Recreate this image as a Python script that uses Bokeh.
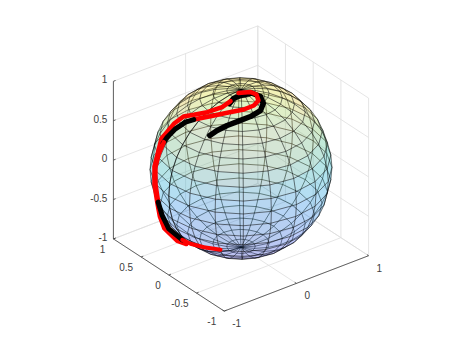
import numpy as np
from bokeh.plotting import figure
from bokeh.embed import file_html
from bokeh.resources import INLINE
from bokeh.core.properties import value

# tick labels
x_ticks = [-1, 0, 1]
y_ticks = [-1, -0.5, 0, 0.5, 1]
z_ticks = [-1, -0.5, 0, 0.5, 1]
x_labels = ["-1", "0", "1"]
y_labels = ["-1", "-0.5", "0", "0.5", "1"]
z_labels = ["-1", "-0.5", "0", "0.5", "1"]

# sphere mesh size (MATLAB sphere(n)) and face colormap anchors
sphere_n = 20
cmap_pos = [0.0, 0.125, 0.25, 0.375, 0.5, 0.625, 0.75, 0.875, 1.0]
cmap_r = [0.2422, 0.2810, 0.1786, 0.1085, 0.0689, 0.2161, 0.6720, 0.9970, 0.9769]
cmap_g = [0.1504, 0.3228, 0.5289, 0.6350, 0.6948, 0.7843, 0.7793, 0.7659, 0.9839]
cmap_b = [0.6603, 0.9579, 0.9682, 0.8800, 0.8394, 0.5923, 0.2227, 0.2199, 0.0805]

# thick trajectory pieces, in view-plane coordinates (sphere radius = 1)
black_a_u = [-0.343, -0.262, -0.152, -0.027, 0.104, 0.214, 0.245, 0.214, 0.115, -0.005, -0.082, -0.126]
black_a_v = [0.363, 0.418, 0.473, 0.520, 0.571, 0.637, 0.714, 0.791, 0.830, 0.802, 0.769, 0.714]
red_a_u = [-0.115, -0.207, -0.371, -0.519, -0.632, -0.738, -0.830, -0.874, -0.907, -0.951, -0.951, -0.918, -0.892, -0.842, -0.700, -0.600]
red_a_v = [0.740, 0.674, 0.619, 0.590, 0.571, 0.491, 0.381, 0.330, 0.198, 0.022, -0.176, -0.385, -0.526, -0.658, -0.795, -0.830]
red_b_u = [-0.027, 0.104, 0.170, 0.192, 0.141, 0.031, -0.152, -0.335, -0.519]
red_b_v = [0.830, 0.841, 0.813, 0.747, 0.692, 0.648, 0.612, 0.575, 0.538]
black_b_u = [-0.519, -0.610, -0.720, -0.811, -0.855]
black_b_v = [0.538, 0.509, 0.436, 0.344, 0.278]
red_c_u = [-0.848, -0.903, -0.940, -0.940, -0.910]
red_c_v = [0.289, 0.162, 0.014, -0.168, -0.370]
black_c_u = [-0.910, -0.866, -0.793, -0.646]
black_c_v = [-0.370, -0.516, -0.663, -0.784]
red_d_u = [-0.646, -0.555, -0.409, -0.225]
red_d_v = [-0.784, -0.827, -0.865, -0.893]

# view: MATLAB default az=-37.5, el=30
az, el = np.radians(-37.5), np.radians(30.0)
R = np.array([np.cos(az), np.sin(az), 0.0])
U = np.array([-np.sin(el) * np.sin(az), np.sin(el) * np.cos(az), np.cos(el)])
D = np.array([np.sin(az) * np.cos(el), -np.cos(az) * np.cos(el), np.sin(el)])


def proj(x, y, z):
    return (R[0] * x + R[1] * y + R[2] * z, U[0] * x + U[1] * y + U[2] * z)


SC, CX, CY = 91.0, 240.5, 168.0
W, H = 449, 333
p = figure(width=W, height=H, output_backend="svg", toolbar_location=None,
           x_range=((0 - CX) / SC, (0 + W - CX) / SC),
           y_range=((CY - 0 - H) / SC, (CY - 0) / SC),
           min_border=0, outline_line_color=None, background_fill_color="white",
           border_fill_color="white")
p.xaxis.visible = False
p.yaxis.visible = False
p.grid.visible = False

# back walls and floor grid
GRID = "#dedede"
gx, gy = [], []
def seg(a, b, xs=gx, ys=gy):
    ua, va = proj(*a)
    ub, vb = proj(*b)
    xs.append([ua, ub])
    ys.append([va, vb])

for t in x_ticks:
    seg((t, -1, -1), (t, 1, -1))
    seg((t, 1, -1), (t, 1, 1))
for t in y_ticks:
    seg((-1, t, -1), (1, t, -1))
    seg((1, t, -1), (1, t, 1))
for t in z_ticks:
    seg((-1, 1, t), (1, 1, t))
    seg((1, 1, t), (1, -1, t))
p.multi_line(gx, gy, line_color=GRID, line_width=0.8)

# axes and ticks
ax, ay = [], []
seg((-1, 1, -1), (-1, 1, 1), ax, ay)
seg((-1, 1, -1), (-1, -1, -1), ax, ay)
seg((-1, -1, -1), (1, -1, -1), ax, ay)
TL = 0.03
for t in x_ticks:
    seg((t, -1, -1), (t, -1 + TL, -1), ax, ay)
for t in y_ticks:
    seg((-1, t, -1), (-1 + TL, t, -1), ax, ay)
for t in z_ticks:
    seg((-1, 1, t), (-1 + TL, 1, t), ax, ay)
p.multi_line(ax, ay, line_color="#404040", line_width=0.8)

# tick labels
FONT = value("Liberation Sans")
TXT = "#404040"
def labels(pts, txt, align, dx, dy):
    us, vs = zip(*[proj(*q) for q in pts])
    p.text(list(us), list(vs), text=txt, text_font=FONT, text_font_size="10px", text_color=TXT,
           text_align=align, text_baseline="middle", x_offset=dx, y_offset=dy)

labels([(t, -1, -1) for t in x_ticks], x_labels, "left", 8, 12)
labels([(-1, t, -1) for t in y_ticks], y_labels, "right", -8, 10)
labels([(-1, 1, t) for t in z_ticks], z_labels, "right", -6, -2)

# sphere
n = sphere_n
lon = np.linspace(-np.pi, np.pi, n + 1)
lat = np.linspace(-np.pi / 2, np.pi / 2, n + 1)
X = np.outer(np.cos(lat), np.cos(lon))
Y = np.outer(np.cos(lat), np.sin(lon))
Z = np.outer(np.sin(lat), np.ones(n + 1))
PU, PV = proj(X, Y, Z)
DP = D[0] * X + D[1] * Y + D[2] * Z


def color(z):
    t = (z + 1) / 2
    r = np.interp(t, cmap_pos, cmap_r)
    g = np.interp(t, cmap_pos, cmap_g)
    b = np.interp(t, cmap_pos, cmap_b)
    return "#%02x%02x%02x" % (int(r * 255), int(g * 255), int(b * 255))


faces = []
for i in range(n):
    for j in range(n):
        ii = [i, i, i + 1, i + 1]
        jj = [j, j + 1, j + 1, j]
        faces.append((DP[ii, jj].mean(), list(PU[ii, jj]), list(PV[ii, jj]), color(Z[i:i + 2, j].mean())))
faces.sort(key=lambda f: f[0])

edges = []
for i in range(n + 1):
    for j in range(n):
        edges.append(((DP[i, j] + DP[i, j + 1]) / 2, [PU[i, j], PU[i, j + 1]], [PV[i, j], PV[i, j + 1]]))
for i in range(n):
    for j in range(n + 1):
        edges.append(((DP[i, j] + DP[i + 1, j]) / 2, [PU[i, j], PU[i + 1, j]], [PV[i, j], PV[i + 1, j]]))


def draw(fs, es):
    p.patches([f[1] for f in fs], [f[2] for f in fs], fill_color=[f[3] for f in fs],
              fill_alpha=0.19, line_color=None)
    p.multi_line([e[1] for e in es], [e[2] for e in es], line_color="black", line_alpha=0.55, line_width=0.95)


draw([f for f in faces if f[0] < 0], [e for e in edges if e[0] < 0])
draw([f for f in faces if f[0] >= 0], [e for e in edges if e[0] >= 0])

# trajectory
for u, v, c, w in [(black_a_u, black_a_v, "black", 5.5), (red_a_u, red_a_v, "red", 4.5),
                   (red_b_u, red_b_v, "red", 4.5), (black_b_u, black_b_v, "black", 5),
                   (red_c_u, red_c_v, "red", 4.5), (black_c_u, black_c_v, "black", 5),
                   (red_d_u, red_d_v, "red", 4)]:
    p.line(u, v, line_color=c, line_width=w, line_cap="round", line_join="round")

open("out.html", "w").write(file_html(p, INLINE))
